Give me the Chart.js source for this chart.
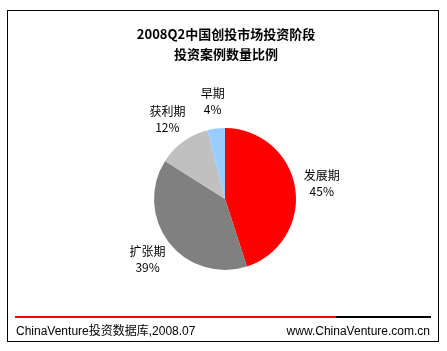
<!DOCTYPE html>
<html>
<head>
<meta charset="utf-8">
<script src="https://cdn.jsdelivr.net/npm/chart.js@4"></script>
<style>
  html, body { margin: 0; padding: 0; background: #fff; }
  canvas { display: block; }
</style>
</head>
<body>
<canvas id="pieChart" width="447" height="351"></canvas>
<script>
const titleLines = ['2008Q2中国创投市场投资阶段', '投资案例数量比例'];
const stages = ['发展期', '扩张期', '获利期', '早期'];
const shares = [45, 39, 12, 4];
const sliceColors = ['#FF0000', '#808080', '#C0C0C0', '#99CCFF'];
const sourceText = 'ChinaVenture投资数据库,2008.07';
const siteText = 'www.ChinaVenture.com.cn';

const cjk = '"Noto Sans CJK SC", "Liberation Sans", sans-serif';

// frame, title, footer and slice labels
const decorations = {
  id: 'decorations',
  beforeDraw(chart) {
    const c = chart.ctx;
    c.save();
    c.fillStyle = '#fff';
    c.fillRect(0, 0, chart.width, chart.height);
    c.restore();
  },
  afterDraw(chart) {
    const c = chart.ctx;
    c.save();

    // outer frame
    c.strokeStyle = '#000';
    c.lineWidth = 1;
    c.strokeRect(7.5, 10.5, 431, 331);

    // title
    c.fillStyle = '#000';
    c.textAlign = 'center';
    c.textBaseline = 'middle';
    c.font = 'bold 13px ' + cjk;
    c.fillText(titleLines[0], 226, 34);
    c.fillText(titleLines[1], 226, 54);

    // footer rules
    c.lineWidth = 2;
    c.strokeStyle = '#FF0000';
    c.beginPath(); c.moveTo(15, 317); c.lineTo(336, 317); c.stroke();
    c.strokeStyle = '#000';
    c.beginPath(); c.moveTo(336, 317); c.lineTo(431, 317); c.stroke();

    c.font = '12px "Liberation Sans", ' + cjk;
    c.textBaseline = 'alphabetic';
    c.textAlign = 'left';
    c.fillText(sourceText, 16, 335);
    c.textAlign = 'right';
    c.fillText(siteText, 430, 335);

    // slice labels
    const meta = chart.getDatasetMeta(0);
    c.font = '12px ' + cjk;
    c.textAlign = 'center';
    c.textBaseline = 'middle';
    meta.data.forEach((arc, i) => {
      const p = arc.getProps(['x', 'y', 'startAngle', 'endAngle', 'outerRadius'], true);
      const mid = (p.startAngle + p.endAngle) / 2;
      const d = p.outerRadius + 27;
      const lx = p.x + Math.cos(mid) * d;
      const ly = p.y + Math.sin(mid) * d;
      c.fillText(stages[i], lx, ly - 8);
      c.fillText(shares[i] + '%', lx, ly + 8);
    });

    c.restore();
  }
};

new Chart(document.getElementById('pieChart'), {
  type: 'pie',
  data: {
    labels: stages,
    datasets: [{
      data: shares,
      backgroundColor: sliceColors,
      borderWidth: 0
    }]
  },
  options: {
    responsive: false,
    animation: false,
    layout: {
      padding: { left: 154, right: 151, top: 128, bottom: 81 }
    },
    plugins: {
      legend: { display: false },
      tooltip: { enabled: false }
    }
  },
  plugins: [decorations]
});
</script>
</body>
</html>
